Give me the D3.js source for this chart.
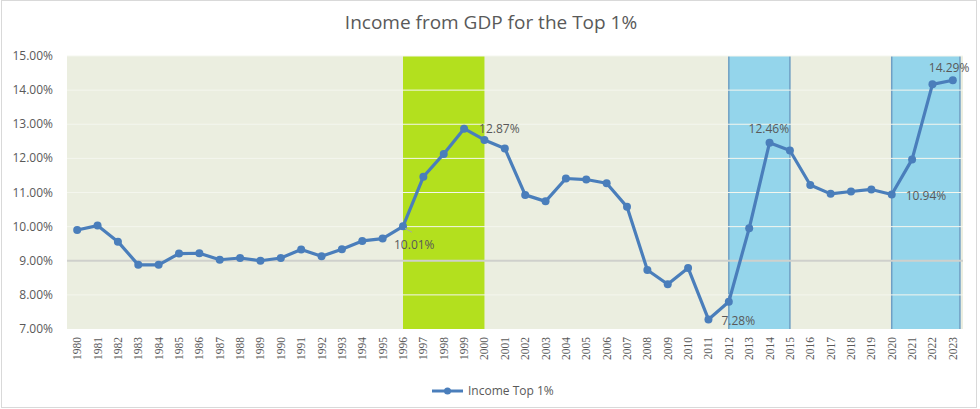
<!DOCTYPE html>
<html>
<head>
<meta charset="utf-8">
<script src="https://cdn.jsdelivr.net/npm/d3@7"></script>
<style>
  body { margin: 0; background: #fff; }
  svg { display: block; }
</style>
</head>
<body>
<svg id="chart" width="980" height="409"></svg>
<script>
// data
var years = d3.range(1980, 2024)
var income = [9.90, 10.03, 9.56, 8.88, 8.88, 9.21, 9.22, 9.03, 9.08, 9.00,
  9.08, 9.33, 9.13, 9.34, 9.58, 9.65, 10.01, 11.46, 12.13, 12.87,
  12.54, 12.29, 10.93, 10.74, 11.41, 11.38, 11.27, 10.58, 8.73, 8.31,
  8.79, 7.28, 7.80, 9.95, 12.46, 12.23, 11.22, 10.96, 11.03, 11.09,
  10.94, 11.97, 14.17, 14.29]
var yTicks = [7, 8, 9, 10, 11, 12, 13, 14, 15]
var labelled = [1996, 1999, 2011, 2014, 2020, 2023]
// shaded periods [from, to]
var greenBands = [[1996, 2000]]
var blueBands = [[2012, 2015], [2020, 2023.35]]

var svg = d3.select('#chart')
var plotL = 67, plotR = 963, plotT = 56, plotB = 329

var x = d3.scalePoint()
  .domain(years)
  .range([plotL, plotR])
  .padding(0.5)
var step = x.step()
var xv = function(yr){ return x(1980) + (yr - 1980) * step }

var y = d3.scaleLinear()
  .domain([7, 15])
  .range([plotB, plotT])

// frame
svg.append('rect')
  .attr('x', 1.5).attr('y', 0.5)
  .attr('width', 975).attr('height', 407)
  .attr('fill', '#fff')
  .attr('stroke', '#d9d9d9')

svg.append('text')
  .attr('x', 491).attr('y', 29)
  .attr('text-anchor', 'middle')
  .attr('font-family', 'Open Sans, sans-serif')
  .attr('font-size', 19)
  .attr('fill', '#595959')
  .text('Income from GDP for the Top 1%')

// plot background
svg.append('rect')
  .attr('x', plotL).attr('y', plotT)
  .attr('width', plotR - plotL).attr('height', plotB - plotT)
  .attr('fill', '#ebeee0')

svg.append('g').selectAll('rect')
  .data(greenBands)
  .join('rect')
  .attr('x', d => xv(d[0]))
  .attr('y', plotT)
  .attr('width', d => xv(d[1]) - xv(d[0]))
  .attr('height', plotB - plotT)
  .attr('fill', '#b3e01e')

var blue = svg.append('g').selectAll('g')
  .data(blueBands)
  .join('g')
blue.append('rect')
  .attr('x', d => xv(d[0]))
  .attr('y', plotT)
  .attr('width', d => xv(d[1]) - xv(d[0]))
  .attr('height', plotB - plotT)
  .attr('fill', '#94d5eb')

// gridlines
svg.append('g').selectAll('line')
  .data(yTicks.slice(1))
  .join('line')
  .attr('x1', plotL).attr('x2', plotR)
  .attr('y1', d => y(d)).attr('y2', d => y(d))
  .attr('stroke', d => d === 9 ? '#cfd0cc' : '#f4f6ee')
  .attr('stroke-width', d => d === 9 ? 2 : 1)

// blue band edges
blue.selectAll('line')
  .data(d => d)
  .join('line')
  .attr('x1', d => xv(d)).attr('x2', d => xv(d))
  .attr('y1', plotT).attr('y2', plotB)
  .attr('stroke', '#6f9fc4')
  .attr('stroke-width', 1.5)

// y axis labels
svg.append('g').selectAll('text')
  .data(yTicks)
  .join('text')
  .attr('x', 53)
  .attr('y', d => y(d) + 4)
  .attr('text-anchor', 'end')
  .attr('font-family', 'Open Sans, sans-serif')
  .attr('font-size', 12)
  .attr('fill', '#595959')
  .text(d => d3.format('.2f')(d) + '%')

// x axis labels, rotated
svg.append('g').selectAll('text')
  .data(years)
  .join('text')
  .attr('transform', d => 'translate(' + (x(d) + 4) + ',337) rotate(-90)')
  .attr('text-anchor', 'end')
  .attr('font-family', 'Liberation Serif, serif')
  .attr('font-size', 11.5)
  .attr('fill', '#595959')
  .text(d => d)

// series
var line = d3.line()
  .x((d, i) => x(years[i]))
  .y(d => y(d))

svg.append('path')
  .datum(income)
  .attr('d', line)
  .attr('fill', 'none')
  .attr('stroke', '#4a7ebb')
  .attr('stroke-width', 3.2)
  .attr('stroke-linejoin', 'round')

svg.append('g').selectAll('circle')
  .data(income)
  .join('circle')
  .attr('cx', (d, i) => x(years[i]))
  .attr('cy', d => y(d))
  .attr('r', 4)
  .attr('fill', '#4a7ebb')

// data labels
var offs = {1996: [-9, 23], 1999: [15, 4], 2011: [13, 6], 2014: [-21, -10], 2020: [14, 5], 2023: [-24, -8]}
var val = d => income[years.indexOf(d)]

// leader line for the 1996 label
svg.append('line')
  .attr('x1', x(1996) + 2).attr('y1', y(val(1996)) + 2)
  .attr('x2', x(1996) + 9).attr('y2', y(val(1996)) + 6)
  .attr('stroke', '#a6a6a6')

svg.append('g').selectAll('text')
  .data(labelled)
  .join('text')
  .attr('x', d => x(d) + offs[d][0])
  .attr('y', d => y(val(d)) + offs[d][1])
  .attr('font-family', 'Open Sans, sans-serif')
  .attr('font-size', 12)
  .attr('fill', '#595959')
  .text(d => d3.format('.2f')(val(d)) + '%')

// legend
var lg = svg.append('g').attr('transform', 'translate(432,391)')
lg.append('line').attr('x1', 0).attr('x2', 31)
  .attr('stroke', '#4a7ebb').attr('stroke-width', 3)
lg.append('circle').attr('cx', 15.5).attr('r', 3.5).attr('fill', '#4a7ebb')
lg.append('text').attr('x', 36).attr('y', 4)
  .attr('font-family', 'Open Sans, sans-serif')
  .attr('font-size', 12)
  .attr('fill', '#595959')
  .text('Income Top 1%')
</script>
</body>
</html>
